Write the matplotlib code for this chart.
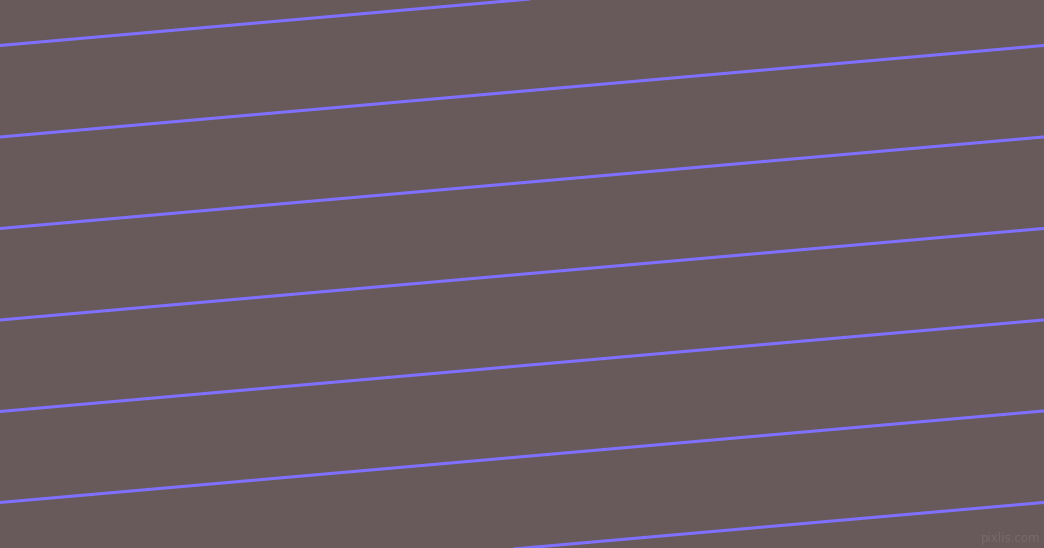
import numpy as np
import matplotlib.pyplot as plt

# line offsets at the left edge (px from top) and common slope
intercepts = [45.5, 137, 228.5, 320, 411.5, 502.5, 594]
slope = -0.0877
x_edges = [0, 1044]

bg = '#685a5a'
line_color = '#8070ff'

fig = plt.figure(figsize=(10.44, 5.48), dpi=100)
ax = fig.add_axes([0, 0, 1, 1])
ax.set_facecolor(bg)
fig.patch.set_facecolor(bg)

for c in intercepts:
    ys = [c + slope * x for x in x_edges]
    ax.plot(x_edges, ys, color=line_color, lw=2.2, solid_capstyle='butt')

ax.text(1040, 545, 'pixlis.com', color='#7a6e6e', fontsize=8.5,
        ha='right', va='bottom', alpha=0.8)

ax.set_xlim(0, 1044)
ax.set_ylim(548, 0)
ax.axis('off')

fig.savefig('out.png', dpi=100, facecolor=bg)
